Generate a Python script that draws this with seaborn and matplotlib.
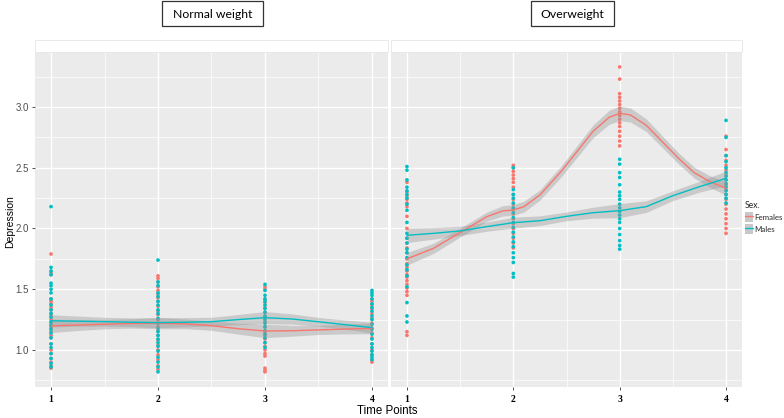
import numpy as np
import pandas as pd
import matplotlib
matplotlib.use("Agg")
import matplotlib.pyplot as plt
from matplotlib.patches import Rectangle, Patch
from matplotlib.lines import Line2D
from matplotlib.legend_handler import HandlerTuple
import seaborn as sns

# --- data ---
time_points = [1, 2, 3, 4]
panels = ["Normal weight", "Overweight"]
sexes = ["Females", "Males"]

# individual scores, one list per time point
normal_females = [
    [1.79, 1.64, 1.62, 1.42, 1.40, 1.38, 1.35, 1.33, 1.30, 1.28, 1.25, 1.22,
     1.20, 1.18, 1.15, 1.12, 1.10, 1.05, 1.00, 0.97, 0.93, 0.90, 0.87, 0.85],
    [1.61, 1.59, 1.56, 1.52, 1.49, 1.46, 1.43, 1.40, 1.36, 1.32, 1.29, 1.25,
     1.22, 1.19, 1.16, 1.12, 1.08, 1.04, 1.00, 0.96, 0.92, 0.87, 0.84],
    [1.52, 1.50, 1.42, 1.39, 1.35, 1.31, 1.27, 1.23, 1.19, 1.15, 1.12, 1.09,
     1.06, 1.03, 1.00, 0.97, 0.95, 0.85, 0.83, 0.82],
    [1.42, 1.40, 1.37, 1.34, 1.30, 1.26, 1.22, 1.18, 1.14, 1.10, 1.05, 1.00,
     0.96, 0.92, 0.90],
]
normal_males = [
    [2.18, 1.68, 1.65, 1.62, 1.55, 1.53, 1.50, 1.47, 1.42, 1.37, 1.33, 1.30,
     1.27, 1.23, 1.20, 1.17, 1.14, 1.10, 1.05, 1.02, 0.97, 0.93, 0.89, 0.86],
    [1.74, 1.56, 1.53, 1.47, 1.44, 1.40, 1.37, 1.33, 1.30, 1.26, 1.22, 1.18,
     1.15, 1.12, 1.09, 1.06, 1.03, 0.99, 0.94, 0.90, 0.86, 0.82],
    [1.54, 1.49, 1.45, 1.42, 1.40, 1.37, 1.34, 1.31, 1.28, 1.25, 1.22, 1.19,
     1.16, 1.13, 1.10, 1.06, 1.02],
    [1.49, 1.47, 1.45, 1.42, 1.38, 1.35, 1.32, 1.28, 1.25, 1.21, 1.17, 1.13,
     1.09, 1.05, 1.02, 0.99, 0.96, 0.94, 0.92],
]
over_females = [
    [2.38, 2.30, 2.27, 2.24, 2.21, 2.18, 2.10, 2.00, 1.92, 1.88, 1.84, 1.80,
     1.75, 1.71, 1.68, 1.65, 1.62, 1.60, 1.57, 1.54, 1.51, 1.48, 1.45, 1.15, 1.12],
    [2.52, 2.50, 2.47, 2.44, 2.41, 2.38, 2.34, 2.28, 2.24, 2.20, 2.16, 2.12,
     2.08, 2.04, 2.00, 1.96, 1.92, 1.88, 1.84],
    [3.33, 3.23, 3.11, 3.08, 3.05, 3.02, 2.99, 2.96, 2.93, 2.90, 2.87, 2.84,
     2.80, 2.76, 2.72, 2.68],
    [2.76, 2.65, 2.60, 2.56, 2.52, 2.48, 2.44, 2.40, 2.36, 2.32, 2.28, 2.24,
     2.20, 2.16, 2.12, 2.08, 2.04, 2.00, 1.96],
]
over_males = [
    [2.51, 2.48, 2.40, 2.34, 2.31, 2.28, 2.25, 2.20, 2.15, 2.05, 1.96, 1.92,
     1.88, 1.83, 1.80, 1.76, 1.70, 1.66, 1.61, 1.52, 1.39, 1.28, 1.23],
    [2.50, 2.32, 2.28, 2.25, 2.21, 2.17, 2.13, 2.09, 2.05, 2.01, 1.97, 1.93,
     1.89, 1.85, 1.80, 1.76, 1.72, 1.63, 1.60],
    [2.57, 2.53, 2.46, 2.42, 2.36, 2.30, 2.27, 2.24, 2.20, 2.17, 2.14, 2.11,
     2.08, 2.05, 2.00, 1.95, 1.90, 1.86, 1.83],
    [2.89, 2.75, 2.60, 2.55, 2.50, 2.46, 2.43, 2.40, 2.37, 2.34, 2.31, 2.28,
     2.25, 2.21],
]

# smoothed trend (fit and half width of the grey band)
smooth_x = [1.0, 1.25, 1.5, 1.75, 2.0, 2.25, 2.5, 2.75, 3.0, 3.25, 3.5, 3.75, 4.0]
normal_females_fit = [1.198, 1.205, 1.212, 1.218, 1.220, 1.215, 1.200, 1.175,
                      1.156, 1.158, 1.165, 1.172, 1.178]
normal_females_se = [0.055, 0.045, 0.038, 0.038, 0.045, 0.040, 0.038, 0.045,
                     0.055, 0.045, 0.038, 0.040, 0.045]
normal_males_fit = [1.240, 1.237, 1.233, 1.228, 1.225, 1.228, 1.233, 1.250,
                    1.266, 1.255, 1.232, 1.208, 1.184]
normal_males_se = [0.050, 0.042, 0.036, 0.036, 0.042, 0.038, 0.036, 0.042,
                   0.050, 0.042, 0.036, 0.038, 0.045]
over_males_fit = [1.944, 1.960, 1.980, 2.015, 2.048, 2.064, 2.100, 2.130,
                  2.147, 2.180, 2.270, 2.344, 2.413]
over_males_se = [0.060, 0.048, 0.038, 0.038, 0.045, 0.040, 0.036, 0.045,
                 0.058, 0.048, 0.040, 0.045, 0.060]

# the overweight female curve bends sharply, so it was read more densely
over_females_x = [1.0, 1.25, 1.5, 1.75, 1.9, 2.0, 2.1, 2.25, 2.45, 2.6, 2.75,
                  2.9, 3.0, 3.1, 3.25, 3.4, 3.55, 3.7, 3.85, 4.0]
over_females_fit = [1.750, 1.837, 1.966, 2.097, 2.145, 2.152, 2.180, 2.276,
                    2.470, 2.635, 2.800, 2.915, 2.948, 2.935, 2.850, 2.715,
                    2.580, 2.460, 2.385, 2.330]
over_females_se = [0.052, 0.042, 0.036, 0.038, 0.042, 0.045, 0.045, 0.042,
                   0.045, 0.048, 0.052, 0.058, 0.060, 0.058, 0.052, 0.048,
                   0.045, 0.045, 0.048, 0.055]

y_ticks = [1.0, 1.5, 2.0, 2.5, 3.0]
y_tick_labels = ["1.0", "1.5", "2.0", "2.5", "3.0"]

palette = {"Females": "#F8766D", "Males": "#00BFC4"}

# --- long-form table for the points ---
rows = []
for panel, groups in zip(panels, [(normal_females, normal_males), (over_females, over_males)]):
    for sex, per_time in zip(sexes, groups):
        for t, values in zip(time_points, per_time):
            for v in values:
                rows.append({"panel": panel, "sex": sex, "time": t, "depression": v})
df = pd.DataFrame(rows)

smooth = {
    ("Normal weight", "Females"): (smooth_x, normal_females_fit, normal_females_se),
    ("Normal weight", "Males"): (smooth_x, normal_males_fit, normal_males_se),
    ("Overweight", "Females"): (over_females_x, over_females_fit, over_females_se),
    ("Overweight", "Males"): (smooth_x, over_males_fit, over_males_se),
}

sns.set_theme(style="darkgrid")
plt.rcParams["font.family"] = ["Liberation Sans", "DejaVu Sans"]

W, H = 784, 418
fig = plt.figure(figsize=(W / 100, H / 100), dpi=100)
fig.patch.set_facecolor("white")

# panel boxes in pixels (left, right); top 52, bottom 387
panel_px = [(35, 388), (391, 742)]
top_px, bot_px = 52, 387
axes = []
for (x0, x1) in panel_px:
    ax = fig.add_axes([x0 / W, 1 - bot_px / H, (x1 - x0) / W, (bot_px - top_px) / H])
    axes.append(ax)

for ax, panel in zip(axes, panels):
    ax.set_facecolor("#EBEBEB")
    sub = df[df["panel"] == panel]
    sns.scatterplot(data=sub, x="time", y="depression", hue="sex", palette=palette,
                    s=7, linewidth=0, legend=False, ax=ax, zorder=2)
    for sex in sexes:
        xs, fit, se = smooth[(panel, sex)]
        fit = np.array(fit)
        se = np.array(se)
        ax.fill_between(xs, fit - se, fit + se, color="#999999", alpha=0.4,
                        lw=0, zorder=3)
        sns.lineplot(x=xs, y=fit, color=palette[sex], lw=1.0, ax=ax, zorder=4)

    ax.set_xlim(0.85, 4.15)
    ax.set_ylim(0.695, 3.453)
    ax.set_xticks(time_points)
    ax.set_xticks([1.5, 2.5, 3.5], minor=True)
    ax.set_yticks(y_ticks)
    ax.set_yticks([0.75, 1.25, 1.75, 2.25, 2.75, 3.25], minor=True)
    ax.grid(which="major", color="white", lw=1.0)
    ax.grid(which="minor", color="white", lw=0.5)
    ax.set_axisbelow(True)
    for sp in ax.spines.values():
        sp.set_visible(False)
    ax.set_xlabel("")
    ax.set_ylabel("")
    ax.set_xticklabels([str(t) for t in time_points])
    for lab in ax.get_xticklabels():
        lab.set_fontfamily(["Liberation Serif", "DejaVu Serif"])
        lab.set_fontweight("bold")
        lab.set_fontsize(7)
        lab.set_color("black")
    ax.tick_params(axis="x", which="major", bottom=True, length=2.5, width=0.6,
                   color="#333333", pad=3)
    ax.tick_params(axis="both", which="minor", length=0)

axes[0].set_yticklabels(y_tick_labels)
axes[0].tick_params(axis="y", which="major", left=True, length=2.5, width=0.6,
                    color="#333333", labelsize=7, labelcolor="#4D4D4D", pad=2)
axes[1].tick_params(axis="y", which="major", left=False, labelleft=False)

# empty white strips over the panels
for (x0, x1) in panel_px:
    fig.add_artist(Rectangle((x0 / W, 1 - top_px / H), (x1 - x0) / W, 12 / H,
                             transform=fig.transFigure, facecolor="white",
                             edgecolor="#E6E6E6", lw=0.6))

# boxed panel titles
for title, (bx0, bx1) in zip(panels, [(162, 263), (531, 614)]):
    fig.add_artist(Rectangle((bx0 / W, 1 - 26 / H), (bx1 - bx0) / W, 25 / H,
                             transform=fig.transFigure, facecolor="white",
                             edgecolor="#333333", lw=0.9))
    fig.text((bx0 + bx1) / 2 / W, 1 - 14 / H, title, ha="center", va="center",
             fontsize=8.8, family=["Lato", "DejaVu Sans"], color="black")

fig.text(10 / W, 1 - 222 / H, "Depression", rotation=90, ha="center", va="center",
         fontsize=7.5, color="black")
fig.text(387 / W, 1 - 411 / H, "Time Points", ha="center", va="center",
         fontsize=8.3, color="black")

# legend: grey band key with the coloured line drawn over it
handles = [(Patch(facecolor="#C8C8C8", edgecolor="none"),
            Line2D([], [], color=palette[s], lw=1.0)) for s in sexes]
leg = fig.legend(handles=handles, labels=sexes, title="Sex.",
                 handler_map={tuple: HandlerTuple(ndivide=1, pad=0)},
                 loc="upper left", bbox_to_anchor=(745 / W, 1 - 201 / H),
                 frameon=False, title_fontsize=6.2,
                 handlelength=1.0, handleheight=1.6, labelspacing=0.25,
                 handletextpad=0.15, borderpad=0, borderaxespad=0,
                 alignment="left", prop={"family": ["Lato", "DejaVu Sans"], "size": 5.7})
leg.get_title().set_fontfamily(["Lato", "DejaVu Sans"])

fig.savefig("out.png", dpi=100)
plt.close(fig)
